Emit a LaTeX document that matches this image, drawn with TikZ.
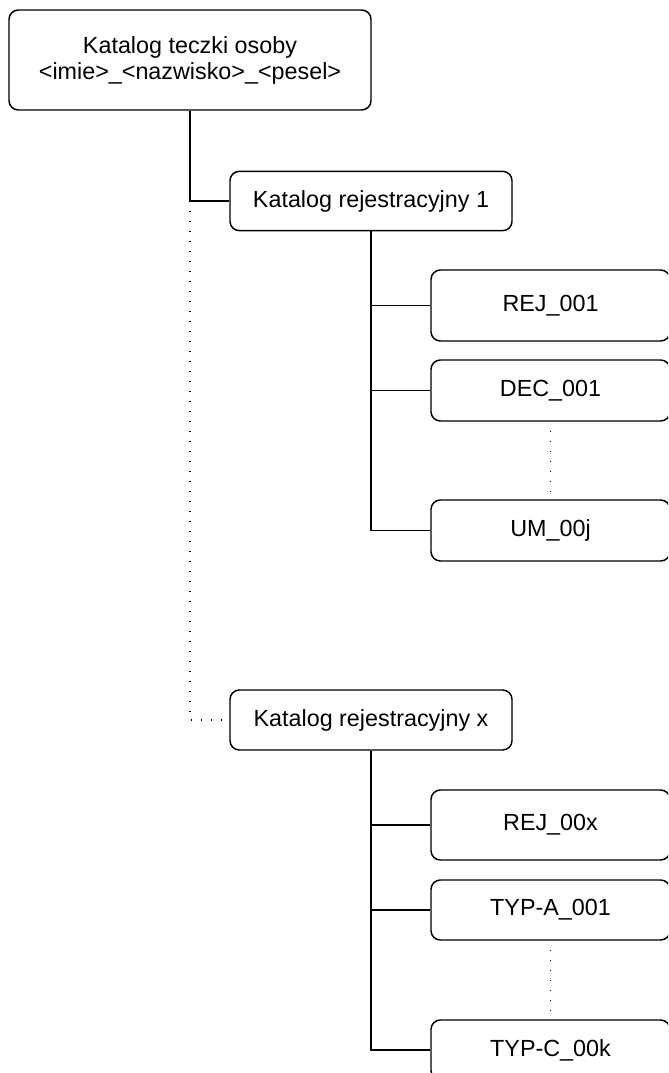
\documentclass[tikz,border=0pt]{standalone}
\usepackage{fontspec}
\setmainfont{Liberation Sans}
\usetikzlibrary{calc}
\begin{document}
\begin{tikzpicture}[x=0.75pt,y=-0.75pt,
  box/.style={draw=black,line width=1.1pt,rounded corners=7pt,fill=white,
    inner sep=0pt,align=center,font=\fontsize{17.5}{19.5}\selectfont},
  child/.style={box,minimum width=179.25pt},
  link/.style={line width=1.1pt},
  dots/.style={line width=1pt,dash pattern=on 0.9pt off 6.6pt}]
\useasboundingbox (0,0) rectangle (668,1073);
\clip (0,0) rectangle (668,1073);
\node[box,minimum width=271.5pt,minimum height=75pt] (top) at (190,60)
  {Katalog teczki osoby\\<imie>\_<nazwisko>\_<pesel>};
\node[box,minimum width=211.5pt,minimum height=44.5pt] (k1) at (371,201) {Katalog rejestracyjny 1};
\node[box,minimum width=211.5pt,minimum height=45pt] (kx) at (371,720) {Katalog rejestracyjny x};
\node[child,minimum height=53.25pt] (rej1) at (550.5,305.5) {REJ\_001};
\node[child,minimum height=45.75pt] (dec) at (550.5,390.5) {DEC\_001};
\node[child,minimum height=45.75pt] (um) at (550.5,530.5) {UM\_00j};
\node[child,minimum height=52.5pt] (rejx) at (550.5,825) {REJ\_00x};
\node[child,minimum height=45pt] (typa) at (550.5,910) {TYP-A\_001};
\node[child,minimum height=45pt] (typc) at (550.5,1050) {TYP-C\_00k};
\draw[link] (top.south) |- (k1.west);
\draw[dots] ($(top.south |- k1.west)+(0,10)$) |- (kx.west);
\draw[link] (k1.south) |- (rej1.west);
\draw[link] (k1.south) |- (dec.west);
\draw[link] (k1.south) |- (um.west);
\draw[link] (kx.south) |- (rejx.west);
\draw[link] (kx.south) |- (typa.west);
\draw[link] (kx.south) |- (typc.west);
\draw[dots] ($(dec.south)+(0,9)$) -- (um.north);
\draw[dots] ($(typa.south)+(0,9)$) -- (typc.north);
\end{tikzpicture}
\end{document}
